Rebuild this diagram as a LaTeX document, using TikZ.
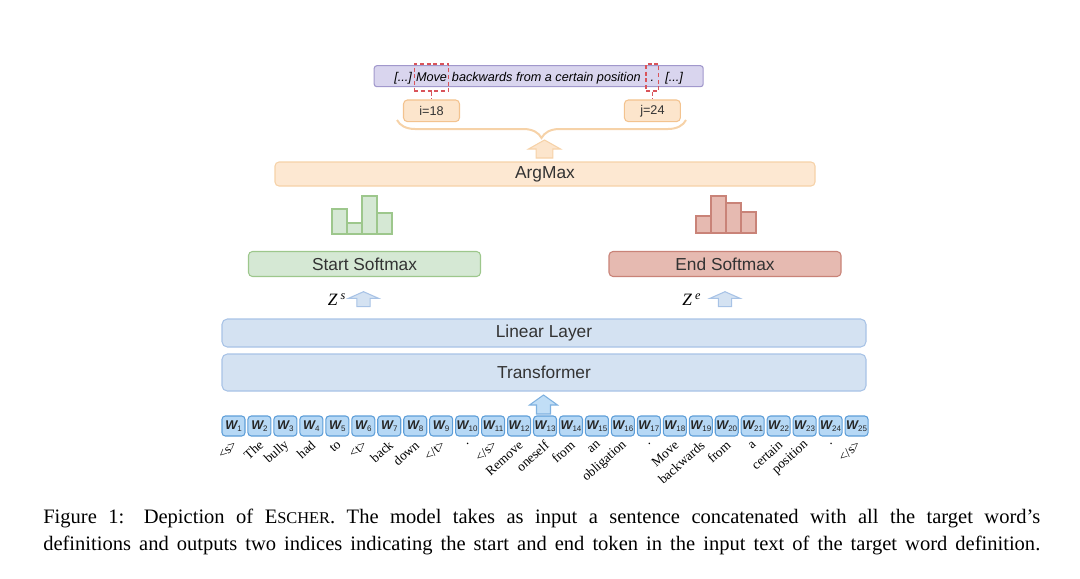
\documentclass[tikz,border=0pt]{standalone}
\usepackage{fontspec}
\setmainfont{Liberation Serif}
\setsansfont{Liberation Sans}
\usetikzlibrary{decorations.pathreplacing}

\definecolor{lavfill}{HTML}{D9D5EE}
\definecolor{lavline}{HTML}{A198CC}
\definecolor{orfill}{HTML}{FCE5CC}
\definecolor{orline}{HTML}{F3C38F}
\definecolor{amfill}{HTML}{FDE8D2}
\definecolor{amline}{HTML}{F6D2A8}
\definecolor{grfill}{HTML}{D5E8D4}
\definecolor{grline}{HTML}{9DC78C}
\definecolor{rdfill}{HTML}{E6BAB1}
\definecolor{rdline}{HTML}{C98378}
\definecolor{blfill}{HTML}{D4E2F2}
\definecolor{blline}{HTML}{A8C3E6}
\definecolor{tkfill}{HTML}{B6D8F5}
\definecolor{tkline}{HTML}{5E9ED8}
\definecolor{dashred}{HTML}{D9545A}
\definecolor{boxtext}{HTML}{333333}

\newcommand\tokw[1]{{\bfseries\itshape W}\raisebox{-1.8pt}{\fontsize{6}{6}\selectfont #1}}

\begin{document}
\begin{tikzpicture}[x=0.75pt,y=0.75pt,yscale=-1,xscale=1,
  layer/.style={draw=blline, fill=blfill, rounded corners=4pt, line width=0.8pt, text=boxtext,
    font=\sffamily\fontsize{13}{15}\selectfont, minimum width=483pt, inner sep=0},
  smbox/.style={rounded corners=3pt, line width=0.8pt, text=boxtext,
    font=\sffamily\fontsize{13}{15}\selectfont, minimum width=174pt, minimum height=18.75pt, inner sep=0},
  idxbox/.style={draw=orline, fill=orfill, rounded corners=3pt, line width=0.8pt, text=boxtext,
    font=\sffamily\fontsize{9.5}{11}\selectfont, minimum width=42pt, minimum height=16.25pt, inner sep=0},
  senttext/.style={font=\sffamily\itshape\fontsize{9.5}{11}\selectfont, inner sep=0},
  markbox/.style={senttext, draw=dashred, dash pattern=on 3pt off 2pt, line width=0.9pt, minimum height=20.25pt},
  reddash/.style={draw=dashred, dash pattern=on 3pt off 2pt, line width=0.9pt},
  tok/.style={draw=tkline, fill=tkfill, rounded corners=2.5pt, line width=0.8pt, text=black!85,
    font=\sffamily\fontsize{9.5}{10}\selectfont, minimum width=17.25pt, minimum height=15pt, inner sep=0},
  toklab/.style={font=\fontsize{10}{12}\selectfont, rotate=42, inner sep=0},
  zlab/.style={font=\fontsize{13}{15}\selectfont, inner sep=0},
  zarrow/.style={draw=blline, fill=blfill, line width=0.8pt},
  inarrow/.style={draw=tkline!80, fill=tkfill!85, line width=0.8pt},
  caption/.style={anchor=base west, inner sep=0, font=\fontsize{15.4}{17}\selectfont}]
\useasboundingbox (0,0) rectangle (1080,578);

% Definition text
\node[draw=lavline, fill=lavfill, rounded corners=2pt, line width=0.8pt, minimum width=246.75pt, minimum height=15.75pt, inner sep=0] (sent) at (538.7,76.2) {};
\node[senttext, anchor=base west] (dotsl) at (394,81.5) {[...]};
\node[markbox, minimum width=26pt] (mv) at (431.5,77.5) {Move};
\node[senttext, anchor=base west] (rest) at (451.7,81.5) {backwards from a certain position};
\node[markbox, minimum width=9.5pt] (dt) at (652.4,77.5) {\vphantom{M}.};
\node[senttext, anchor=base west] (dotsr) at (665,81.5) {[...]};

% Indices
\node[idxbox] (ipos) at (431.5,110.8) {i=18};
\node[idxbox] (jpos) at (652.4,110.8) {j=24};
\draw[reddash] (mv.south) -- (ipos.north);
\draw[reddash] (dt.south) -- (jpos.north);

% Brace
\draw[amline, line width=1.5pt, decorate, decoration={brace, mirror, amplitude=13.5pt}] (397,120) -- (686,120);

% ArgMax
\draw[draw=amline, fill=orfill, line width=0.8pt] (544.5,140) -- (560.5,149) -- (552.8,149) -- (552.8,158) -- (536.2,158) -- (536.2,149) -- (528.5,149) -- cycle;
\node[rounded corners=3pt, draw=amline, fill=amfill, line width=0.8pt, text=boxtext, font=\sffamily\fontsize{13}{15}\selectfont,
  minimum width=405pt, minimum height=18pt, inner sep=0] (amax) at (545,174) {ArgMax};

% Histograms
\foreach \xa/\ya in {332/209, 347/223, 362/196, 377/213}
  \draw[draw=grline, fill=grfill, line width=0.8pt] (\xa,\ya) rectangle (\xa+15,234);
\foreach \xa/\ya in {696/216, 711/196, 726/203, 741/212}
  \draw[draw=rdline, fill=rdfill, line width=0.8pt] (\xa,\ya) rectangle (\xa+15,233);

% Softmax boxes
\node[smbox, draw=grline, fill=grfill] (ssm) at (364.5,264) {Start Softmax};
\node[smbox, draw=rdline, fill=rdfill] (esm) at (725,264) {End Softmax};

% Z arrows
\node[zlab] (zs) at (337,300) {\textit{Z}\,\textsuperscript{\textit{s}}};
\draw[zarrow] (363.5,291.7) -- (378.5,298.3) -- (370.2,298.3) -- (370.2,306.7) -- (356.8,306.7) -- (356.8,298.3) -- (348.5,298.3) -- cycle;
\node[zlab] (ze) at (691.7,300) {\textit{Z}\,\textsuperscript{\textit{e}}};
\draw[zarrow] (725,291.7) -- (740,298.3) -- (731.7,298.3) -- (731.7,306.7) -- (718.3,306.7) -- (718.3,298.3) -- (710,298.3) -- cycle;

% Layers
\node[layer, minimum height=21pt] (lin) at (544,333) {Linear Layer};
\node[layer, minimum height=27.75pt] (trf) at (544,372.5) {Transformer};
\draw[inarrow] (543.5,395) -- (557.5,405) -- (550.5,405) -- (550.5,414) -- (536.5,414) -- (536.5,405) -- (529.5,405) -- cycle;

% Tokens
\foreach \lab [count=\i] in {<s>,The,bully,had,to,<t>,back,down,</t>,.,</s>,Remove,oneself,from,an,obligation,.,Move,backwards,from,a,certain,position,.,</s>}{
  \node[tok] (w\i) at ({233.5+(\i-1)*25.96},426) {\tokw{\i}};
  \node[toklab, anchor=east] (l\i) at ({235.5+(\i-1)*25.96},443) {\lab};
}

% Caption
\node[caption] (cap1) at (43,523.5) {\makebox[747.75pt][s]{Figure 1: Depiction of E{\fontsize{12.3}{12}\selectfont SCHER}. The model takes as input a sentence concatenated with all the target word's}};
\node[caption] (cap2) at (43,550) {\makebox[747.75pt][s]{definitions and outputs two indices indicating the start and end token in the input text of the target word definition.}};

\end{tikzpicture}
\end{document}
